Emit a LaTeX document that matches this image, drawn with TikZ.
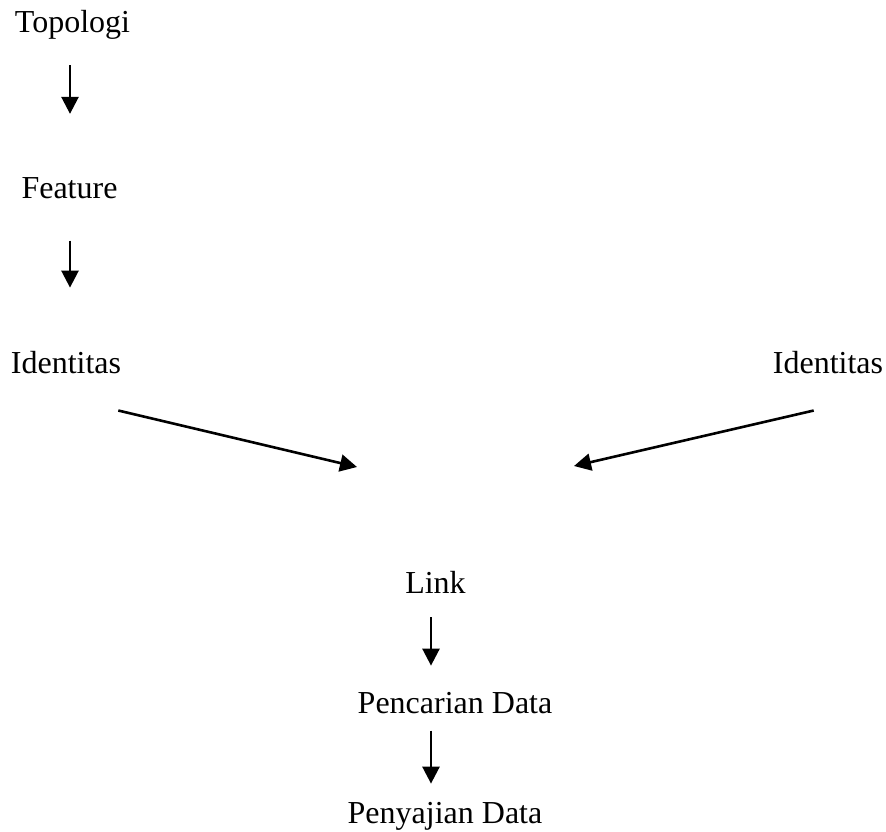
\documentclass[tikz,border=0pt]{standalone}
\usepackage{fontspec}
\setmainfont{Liberation Serif}
\usetikzlibrary{arrows.meta,positioning}

\begin{document}
\begin{tikzpicture}[x=1pt,y=1pt,
    lbl/.style={inner sep=0pt,anchor=base,font=\fontsize{32}{38}\selectfont},
    arr/.style={line width=2.6pt,-{Triangle[length=17pt,width=17pt]}}]
        \useasboundingbox (0,0) rectangle (886,-831);
        % node teks
        \node [lbl] (topologi) at (72.5,-32) {Topologi};
        \node [lbl] (feature) at (69.5,-198) {Feature};
        \node [lbl] (identL) at (66,-373) {Identitas};
        \node [lbl] (identR) at (828,-373) {Identitas};
        \node [lbl] (link) at (435.5,-593) {Link};
        \node [lbl] (cari) at (455,-713) {Pencarian Data};
        \node [lbl] (saji) at (445,-823) {Penyajian Data};
        % titik ujung panah miring
        \coordinate (joinL) at (357,-467);
        \coordinate (joinR) at (574,-466);

        \draw [arr, shorten <=26pt, shorten >=63pt] ([xshift=-2.5pt]topologi.south) -- ([xshift=-2.5pt]topologi.south |- feature.north);
        \draw [arr, shorten <=42pt, shorten >=63pt] ([xshift=0.5pt]feature.south) -- ([xshift=0.5pt]feature.south |- identL.north);
        \draw [arr] ([shift={(-3pt,-37pt)}]identL.south east) -- (joinL);
        \draw [arr] ([shift={(41pt,-37pt)}]identR.south west) -- (joinR);
        \draw [arr, shorten <=24pt, shorten >=26pt] ([xshift=-4.5pt]link.south) -- ([xshift=-4.5pt]link.south |- cari.north);
        \draw [arr, shorten <=17pt, shorten >=18pt] ([xshift=-24pt]cari.south) -- ([xshift=-24pt]cari.south |- saji.north);
    \end{tikzpicture}
\end{document}
